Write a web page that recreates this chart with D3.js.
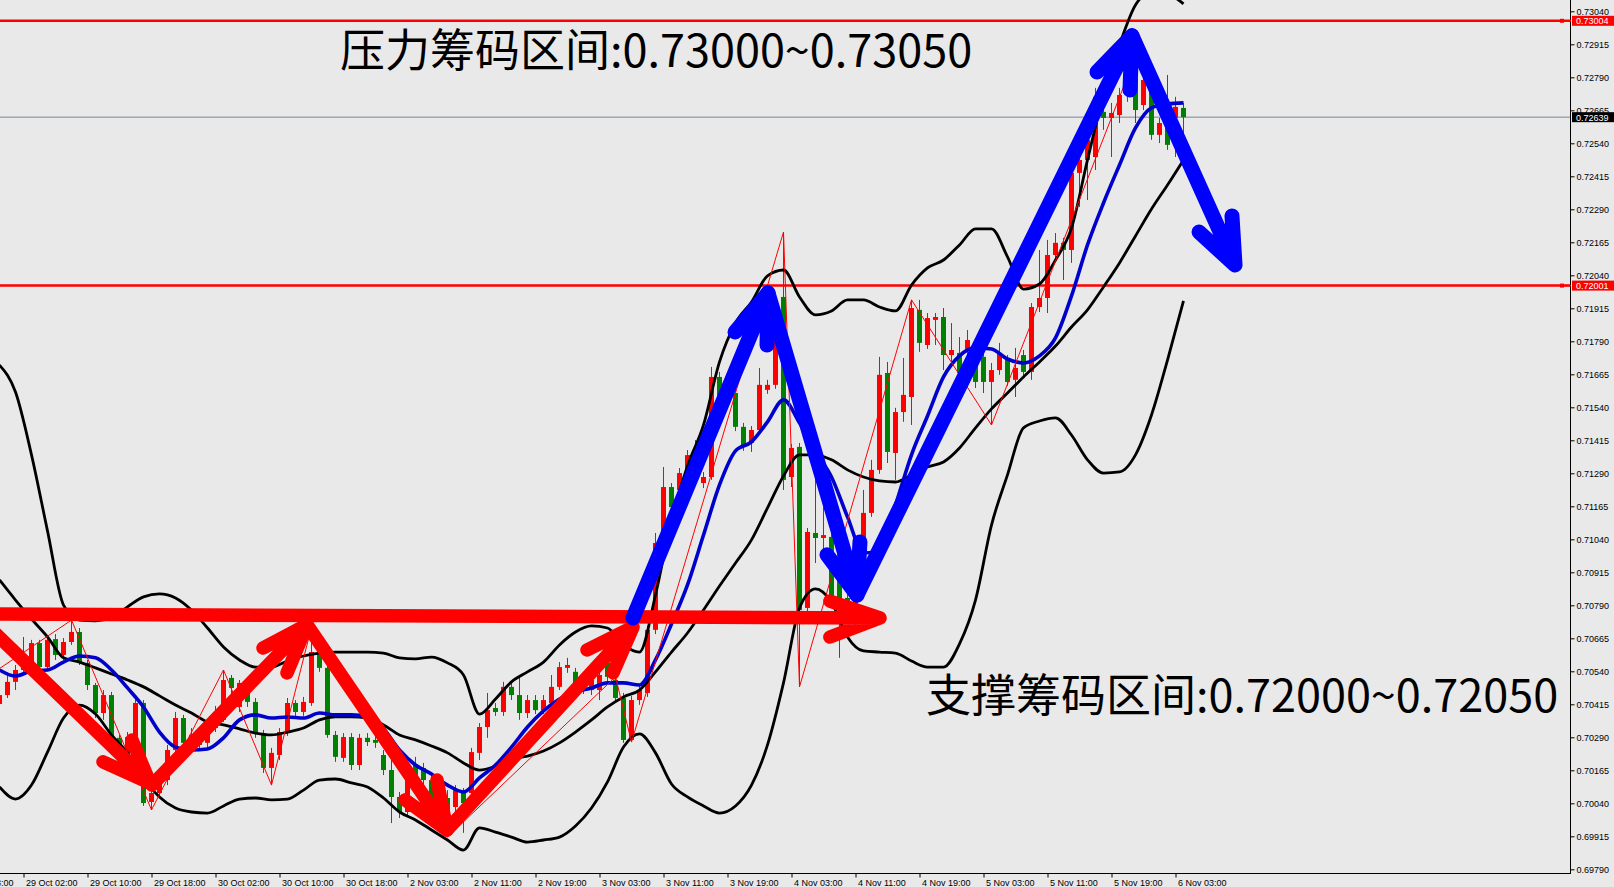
<!DOCTYPE html>
<html>
<head>
<meta charset="utf-8">
<script src="https://cdnjs.cloudflare.com/ajax/libs/d3/7.8.5/d3.min.js"></script>
<style>
  body { margin: 0; background: #e9e9e9; overflow: hidden; }
  svg { display: block; }
</style>
</head>
<body>
<div id="chart"></div>
<script>
// hourly candles, 28 Oct 23:00 -> 6 Nov 04:00
var open = [0.70416,0.70450,0.70500,0.70545,0.70572,0.70647,0.70556,0.70662,0.70602,0.70651,
0.70689,0.70572,0.70488,0.70382,0.70450,0.70288,0.70216,0.70291,0.70420,0.70045,
0.70079,0.70128,0.70242,0.70363,0.70261,0.70299,0.70269,0.70325,0.70356,0.70515,
0.70405,0.70458,0.70424,0.70299,0.70174,0.70223,0.70310,0.70420,0.70386,0.70420,
0.70613,0.70553,0.70299,0.70212,0.70291,0.70185,0.70288,0.70280,0.70223,0.70166,
0.70064,0.70007,0.70185,0.70174,0.70128,0.70053,0.70060,0.70026,0.70079,0.70079,
0.70231,0.70329,0.70401,0.70386,0.70481,0.70450,0.70382,0.70431,0.70393,0.70420,
0.70481,0.70553,0.70538,0.70496,0.70469,0.70469,0.70572,0.70507,0.70439,0.70280,
0.70431,0.70458,0.70697,0.71026,0.71238,0.71227,0.71272,0.71359,0.71253,0.71276,
0.71655,0.71579,0.71594,0.71466,0.71405,0.71454,0.71606,0.71625,0.71958,0.71276,
0.71390,0.70780,0.71064,0.71045,0.71049,0.70886,0.70818,0.70784,0.70962,0.71140,
0.71303,0.71670,0.71367,0.71522,0.71579,0.71909,0.71776,0.71871,0.71882,0.71738,
0.71746,0.71757,0.71757,0.71731,0.71636,0.71681,0.71719,0.71644,0.71738,0.71674,
0.71920,0.71954,0.72117,0.72163,0.72136,0.72428,0.72477,0.72488,0.72659,0.72636,
0.72647,0.72723,0.72788,0.72685,0.72753,0.72572,0.72693,0.72636,0.72674];
var high = [0.70469,0.70534,0.70564,0.70670,0.70659,0.70659,0.70674,0.70681,0.70666,0.70734,
0.70704,0.70583,0.70496,0.70469,0.70462,0.70299,0.70310,0.70439,0.70431,0.70098,
0.70147,0.70261,0.70386,0.70375,0.70325,0.70318,0.70348,0.70409,0.70545,0.70526,
0.70507,0.70477,0.70439,0.70318,0.70250,0.70325,0.70439,0.70431,0.70443,0.70708,
0.70628,0.70572,0.70314,0.70306,0.70306,0.70303,0.70306,0.70299,0.70242,0.70216,
0.70083,0.70204,0.70216,0.70193,0.70144,0.70072,0.70090,0.70109,0.70098,0.70250,
0.70344,0.70458,0.70420,0.70500,0.70500,0.70526,0.70450,0.70450,0.70450,0.70526,
0.70575,0.70591,0.70553,0.70511,0.70522,0.70556,0.70587,0.70519,0.70458,0.70447,
0.70488,0.70712,0.71064,0.71314,0.71253,0.71310,0.71378,0.71416,0.71295,0.71693,
0.71674,0.71598,0.71609,0.71481,0.71469,0.71689,0.71644,0.71852,0.72204,0.71401,
0.71405,0.71083,0.71276,0.71162,0.71064,0.70905,0.70833,0.70837,0.71227,0.71341,
0.71731,0.71712,0.71538,0.71727,0.71947,0.71947,0.71897,0.71897,0.71916,0.71859,
0.71806,0.71833,0.71776,0.71750,0.71708,0.71784,0.71738,0.71765,0.71757,0.71935,
0.72136,0.72174,0.72200,0.72182,0.72447,0.72488,0.72591,0.72750,0.72682,0.72693,
0.72750,0.72769,0.72870,0.72830,0.72791,0.72636,0.72799,0.72716,0.72693];
var low = [0.70401,0.70439,0.70469,0.70538,0.70553,0.70545,0.70545,0.70583,0.70583,0.70640,
0.70564,0.70469,0.70363,0.70356,0.70272,0.70197,0.70197,0.70280,0.70030,0.70015,
0.70060,0.70109,0.70231,0.70250,0.70234,0.70242,0.70250,0.70310,0.70348,0.70450,
0.70386,0.70405,0.70288,0.70155,0.70109,0.70204,0.70295,0.70371,0.70371,0.70409,
0.70538,0.70288,0.70197,0.70197,0.70166,0.70166,0.70257,0.70250,0.70147,0.69965,
0.69984,0.69988,0.70121,0.70090,0.70030,0.69992,0.69912,0.70007,0.69928,0.70064,
0.70204,0.70288,0.70371,0.70371,0.70431,0.70356,0.70363,0.70378,0.70378,0.70405,
0.70469,0.70534,0.70481,0.70454,0.70450,0.70431,0.70503,0.70428,0.70269,0.70272,
0.70413,0.70443,0.70681,0.71011,0.71144,0.71208,0.71257,0.71261,0.71234,0.71265,
0.71560,0.71549,0.71450,0.71375,0.71371,0.71439,0.71591,0.71610,0.71227,0.71238,
0.70481,0.70765,0.70950,0.70962,0.70799,0.70591,0.70765,0.70708,0.70943,0.71125,
0.71288,0.71329,0.71265,0.71485,0.71473,0.71750,0.71761,0.71776,0.71681,0.71700,
0.71625,0.71719,0.71613,0.71594,0.71473,0.71663,0.71621,0.71579,0.71655,0.71644,
0.71901,0.71897,0.72098,0.72022,0.72087,0.72299,0.72325,0.72439,0.72591,0.72488,
0.72617,0.72697,0.72617,0.72666,0.72553,0.72541,0.72515,0.72488,0.72553];
var close = [0.70450,0.70500,0.70545,0.70583,0.70647,0.70556,0.70659,0.70602,0.70651,0.70689,
0.70575,0.70488,0.70382,0.70450,0.70288,0.70216,0.70291,0.70420,0.70041,0.70079,
0.70128,0.70242,0.70363,0.70269,0.70299,0.70261,0.70329,0.70386,0.70507,0.70477,
0.70496,0.70424,0.70306,0.70174,0.70231,0.70310,0.70420,0.70386,0.70424,0.70613,
0.70553,0.70299,0.70216,0.70291,0.70185,0.70288,0.70272,0.70269,0.70166,0.70064,
0.70007,0.70185,0.70140,0.70128,0.70053,0.70015,0.70003,0.70090,0.70041,0.70234,
0.70329,0.70393,0.70386,0.70481,0.70450,0.70382,0.70431,0.70393,0.70431,0.70481,
0.70556,0.70564,0.70496,0.70469,0.70507,0.70526,0.70519,0.70439,0.70280,0.70431,
0.70469,0.70697,0.71026,0.71238,0.71162,0.71291,0.71359,0.71276,0.71276,0.71655,
0.71579,0.71568,0.71466,0.71390,0.71454,0.71625,0.71625,0.71803,0.71265,0.71386,
0.70772,0.71068,0.71045,0.71056,0.70818,0.70810,0.70791,0.70822,0.71140,0.71303,
0.71663,0.71371,0.71522,0.71587,0.71916,0.71784,0.71878,0.71882,0.71738,0.71757,
0.71670,0.71795,0.71636,0.71636,0.71681,0.71746,0.71636,0.71689,0.71674,0.71920,
0.71954,0.72117,0.72163,0.72136,0.72428,0.72477,0.72553,0.72716,0.72636,0.72655,
0.72723,0.72742,0.72666,0.72780,0.72572,0.72617,0.72534,0.72678,0.72639];

// indicator lines, one reading every 2nd bar
var bandUpper = [0.71700,0.71598,0.71360,0.71072,0.70791,0.70734,0.70731,0.70742,0.70784,0.70822,
0.70833,0.70818,0.70772,0.70704,0.70632,0.70583,0.70556,0.70556,0.70579,0.70598,
0.70609,0.70613,0.70613,0.70613,0.70609,0.70591,0.70587,0.70594,0.70572,0.70526,
0.70378,0.70435,0.70500,0.70538,0.70575,0.70640,0.70689,0.70712,0.70704,0.70640,
0.70613,0.70829,0.71113,0.71318,0.71473,0.71712,0.71859,0.71939,0.72038,0.72060,
0.71958,0.71890,0.71905,0.71947,0.71947,0.71920,0.71905,0.72003,0.72068,0.72098,
0.72155,0.72216,0.72216,0.72110,0.71988,0.72007,0.72098,0.72219,0.72477,0.72723,
0.72913,0.73064,0.73113,0.73106,0.73068];
var bandMiddle = [0.70886,0.70810,0.70738,0.70670,0.70591,0.70575,0.70553,0.70530,0.70507,0.70481,
0.70447,0.70412,0.70382,0.70348,0.70337,0.70322,0.70306,0.70299,0.70310,0.70325,
0.70356,0.70367,0.70367,0.70363,0.70337,0.70299,0.70280,0.70257,0.70231,0.70193,
0.70166,0.70181,0.70208,0.70219,0.70238,0.70269,0.70310,0.70356,0.70405,0.70443,
0.70469,0.70538,0.70613,0.70685,0.70772,0.70863,0.70950,0.71038,0.71159,0.71280,
0.71360,0.71360,0.71341,0.71303,0.71276,0.71261,0.71257,0.71284,0.71314,0.71333,
0.71386,0.71462,0.71534,0.71594,0.71655,0.71712,0.71772,0.71844,0.71909,0.71996,
0.72087,0.72189,0.72291,0.72382,0.72477];
var bandLower = [0.70102,0.70056,0.70109,0.70234,0.70363,0.70412,0.70378,0.70299,0.70231,0.70136,
0.70064,0.70022,0.70007,0.70003,0.70030,0.70056,0.70060,0.70053,0.70056,0.70090,
0.70128,0.70132,0.70117,0.70102,0.70060,0.70007,0.69977,0.69939,0.69901,0.69863,
0.69947,0.69931,0.69912,0.69893,0.69901,0.69912,0.69954,0.70022,0.70121,0.70253,
0.70303,0.70231,0.70113,0.70064,0.70030,0.70003,0.70030,0.70109,0.70261,0.70496,
0.70780,0.70852,0.70802,0.70670,0.70617,0.70613,0.70609,0.70579,0.70556,0.70556,
0.70644,0.70810,0.71094,0.71284,0.71462,0.71488,0.71500,0.71435,0.71341,0.71291,
0.71295,0.71360,0.71511,0.71719,0.71943];
var maBlue = [0.70545,0.70522,0.70541,0.70545,0.70575,0.70598,0.70591,0.70545,0.70477,0.70405,
0.70310,0.70253,0.70242,0.70246,0.70288,0.70356,0.70375,0.70363,0.70367,0.70363,
0.70382,0.70375,0.70375,0.70367,0.70322,0.70242,0.70185,0.70151,0.70109,0.70083,
0.70136,0.70185,0.70253,0.70329,0.70390,0.70435,0.70462,0.70477,0.70496,0.70496,
0.70488,0.70583,0.70719,0.70867,0.71056,0.71246,0.71375,0.71409,0.71485,0.71568,
0.71481,0.71371,0.71276,0.71125,0.70988,0.70999,0.71170,0.71360,0.71507,0.71655,
0.71735,0.71765,0.71761,0.71723,0.71708,0.71735,0.71803,0.71962,0.72155,0.72314,
0.72458,0.72598,0.72674,0.72689,0.72693];

// zigzag swing points (bar index, price)
var zzBars = [-4, 9, 19, 28, 34, 39, 56, 77, 79, 98, 100, 114, 124, 142];
var zzPrices = [0.70469,0.70734,0.70015,0.70545,0.70109,0.70708,0.69912,0.70519,0.70272,0.72204,0.70481,0.71947,0.71473,0.72870];

// hand drawn arrows: shaft start, tip, wing, wing  (bar index, price)
var redArrows = [
  [[-0.6,0.70757],[110.06,0.70742],[103.8,0.70806],[103.8,0.70670]],
  [[-1.2,0.70704],[18.81,0.70117],[12.94,0.70197],[16.56,0.70280]],
  [[19.06,0.70109],[38.44,0.70716],[32.94,0.70628],[35.94,0.70534]],
  [[38.44,0.70716],[55.94,0.69939],[50.69,0.70053],[54.69,0.70128]],
  [[55.94,0.69939],[79.19,0.70708],[73.44,0.70621],[76.69,0.70534]]
];
var blueArrows = [
  [[79.19,0.70742],[96.06,0.71973],[91.94,0.71825],[95.94,0.71776]],
  [[96.06,0.71973],[107.19,0.70829],[103.44,0.70981],[107.56,0.71030]],
  [[107.19,0.70829],[141.56,0.72947],[137.19,0.72810],[141.31,0.72742]],
  [[141.56,0.72947],[154.44,0.72079],[149.94,0.72204],[154.06,0.72265]]
];

var timeLabels = ["28 Oct 18:00","29 Oct 02:00","29 Oct 10:00","29 Oct 18:00","30 Oct 02:00","30 Oct 10:00",
  "30 Oct 18:00","2 Nov 03:00","2 Nov 11:00","2 Nov 19:00","3 Nov 03:00","3 Nov 11:00","3 Nov 19:00",
  "4 Nov 03:00","4 Nov 11:00","4 Nov 19:00","5 Nov 03:00","5 Nov 11:00","5 Nov 19:00","6 Nov 03:00"];
var labelBars = [-5, 3, 11, 19, 27, 35, 43, 51, 59, 67, 75, 83, 91, 99, 107, 115, 123, 131, 139, 147];
var priceTicks = ["0.73040","0.72915","0.72790","0.72665","0.72540","0.72415","0.72290","0.72165","0.72040",
  "0.71915","0.71790","0.71665","0.71540","0.71415","0.71290","0.71165","0.71040","0.70915","0.70790",
  "0.70665","0.70540","0.70415","0.70290","0.70165","0.70040","0.69915","0.69790"];

var resistance = 0.73004, support = 0.72001, bid = 0.72639;
var topNote = "压力筹码区间:0.73000~0.73050";
var bottomNote = "支撑筹码区间:0.72000~0.72050";

// layout
var W = 1614, H = 887;
var plotW = 1570, plotH = 873;

var x = d3.scaleLinear().domain([0.0625, 196.3125]).range([0, plotW]);
var y = d3.scaleLinear().domain([0.69790, 0.72915]).range([869.3, 44.3]);

var svg = d3.select("#chart")
  .append("svg")
  .attr("width", W)
  .attr("height", H)
  .style("font-family", "'Liberation Sans', Arial, sans-serif");

svg.append("rect").attr("width", W).attr("height", H).attr("fill", "#e9e9e9");

svg.append("defs").append("clipPath").attr("id", "plotclip")
  .append("rect").attr("width", plotW).attr("height", plotH);

var plot = svg.append("g").attr("clip-path", "url(#plotclip)");

// level lines
plot.append("line")
  .attr("x1", 0).attr("x2", plotW)
  .attr("y1", y(bid)).attr("y2", y(bid))
  .attr("stroke", "#778899").attr("stroke-width", 1);

[resistance, support].forEach(function(v) {
  plot.append("line")
    .attr("x1", 0).attr("x2", plotW)
    .attr("y1", y(v)).attr("y2", y(v))
    .attr("stroke", "#ff0000").attr("stroke-width", 2.5);
});

// candles
var bars = d3.range(open.length);
var isUp = function(i) { return close[i] >= open[i]; };

plot.append("g").selectAll("line")
  .data(bars)
  .enter()
  .append("line")
    .attr("x1", function(i) { return x(i); })
    .attr("x2", function(i) { return x(i); })
    .attr("y1", function(i) { return y(high[i]); })
    .attr("y2", function(i) { return y(low[i]); })
    .attr("stroke", function(i) { return isUp(i) ? "#ff0000" : "#008000"; })
    .attr("stroke-width", 1);

plot.append("g").selectAll("rect")
  .data(bars)
  .enter()
  .append("rect")
    .attr("x", function(i) { return x(i) - 2.5; })
    .attr("width", 5)
    .attr("y", function(i) { return y(Math.max(open[i], close[i])); })
    .attr("height", function(i) { return Math.max(1, Math.abs(y(open[i]) - y(close[i]))); })
    .attr("fill", function(i) { return isUp(i) ? "#ff0000" : "#008000"; });

// bands and moving average
var every2 = d3.line()
  .x(function(d, j) { return x(2 * j); })
  .y(function(d) { return y(d); })
  .curve(d3.curveMonotoneX);

[bandUpper, bandMiddle, bandLower].forEach(function(s) {
  plot.append("path")
    .attr("d", every2(s))
    .attr("fill", "none")
    .attr("stroke", "#000")
    .attr("stroke-width", 2.8);
});

plot.append("path")
  .attr("d", every2(maBlue))
  .attr("fill", "none")
  .attr("stroke", "#0000cc")
  .attr("stroke-width", 3.6);

// zigzag
var zz = d3.line()
  .x(function(d) { return x(d); })
  .y(function(d, k) { return y(zzPrices[k]); });

plot.append("path")
  .attr("d", zz(zzBars))
  .attr("fill", "none")
  .attr("stroke", "#ff0000")
  .attr("stroke-width", 1);

// arrows
var arrowPath = function(a) {
  var p = a.map(function(d) { return [x(d[0]), y(d[1])]; });
  return "M" + p[0] + "L" + p[1] + "M" + p[2] + "L" + p[1] + "L" + p[3];
};

var arrows = svg.append("g");
redArrows.forEach(function(a) {
  arrows.append("path")
    .attr("d", arrowPath(a))
    .attr("fill", "none")
    .attr("stroke", "#ff0000")
    .attr("stroke-width", 13.5)
    .attr("stroke-linecap", "round")
    .attr("stroke-linejoin", "round");
});
blueArrows.forEach(function(a) {
  arrows.append("path")
    .attr("d", arrowPath(a))
    .attr("fill", "none")
    .attr("stroke", "#0000ff")
    .attr("stroke-width", 15)
    .attr("stroke-linecap", "round")
    .attr("stroke-linejoin", "round");
});

// notes
svg.append("text")
  .attr("x", 340).attr("y", 67)
  .style("font-family", "'Noto Sans CJK SC', sans-serif")
  .style("font-size", "45px")
  .attr("fill", "#000")
  .text(topNote);

svg.append("text")
  .attr("x", 926).attr("y", 712)
  .style("font-family", "'Noto Sans CJK SC', sans-serif")
  .style("font-size", "45px")
  .attr("fill", "#000")
  .text(bottomNote);

// right price axis
var yAxis = svg.append("g")
  .attr("transform", "translate(1570.5,0)")
  .call(d3.axisRight(y)
    .tickValues(priceTicks.map(Number))
    .tickFormat(function(d, k) { return priceTicks[k]; })
    .tickSize(4)
    .tickPadding(2));
yAxis.select(".domain").remove();
yAxis.selectAll("text").style("font-size", "9px").style("font-family", "'Liberation Sans', Arial, sans-serif").attr("fill", "#000");
yAxis.append("line").attr("y1", 0).attr("y2", plotH + 0.5).attr("stroke", "#000");

// bottom time axis
var xAxis = svg.append("g")
  .attr("transform", "translate(0," + (plotH + 0.5) + ")")
  .call(d3.axisBottom(x)
    .tickValues(labelBars)
    .tickFormat(function(d, k) { return timeLabels[k]; })
    .tickSize(4));
xAxis.select(".domain").remove();
xAxis.selectAll("text")
  .attr("text-anchor", "start")
  .attr("x", 2)
  .attr("y", 4)
  .attr("dy", "0.95em")
  .style("font-size", "9px")
  .style("font-family", "'Liberation Sans', Arial, sans-serif")
  .attr("fill", "#000");
xAxis.append("line").attr("x1", 0).attr("x2", 1571).attr("stroke", "#000");

// price tags on the axis
var tag = function(v, bg) {
  var g = svg.append("g").attr("transform", "translate(0," + y(v) + ")");
  if (bg === "#ff0000") {
    g.append("rect").attr("x", 1560).attr("y", -2).attr("width", 4).attr("height", 4).attr("fill", bg);
    g.append("line").attr("x1", 1563).attr("x2", 1571).attr("stroke", bg).attr("stroke-width", 1.5);
  }
  g.append("rect").attr("x", 1572).attr("y", -5).attr("width", 42).attr("height", 10).attr("fill", bg);
  g.append("text").attr("x", 1576).attr("y", 3.5)
    .style("font-size", "9px")
    .attr("fill", "#fff")
    .text(v.toFixed(5));
};
tag(resistance, "#ff0000");
tag(support, "#ff0000");
tag(bid, "#000000");
</script>
</body>
</html>
